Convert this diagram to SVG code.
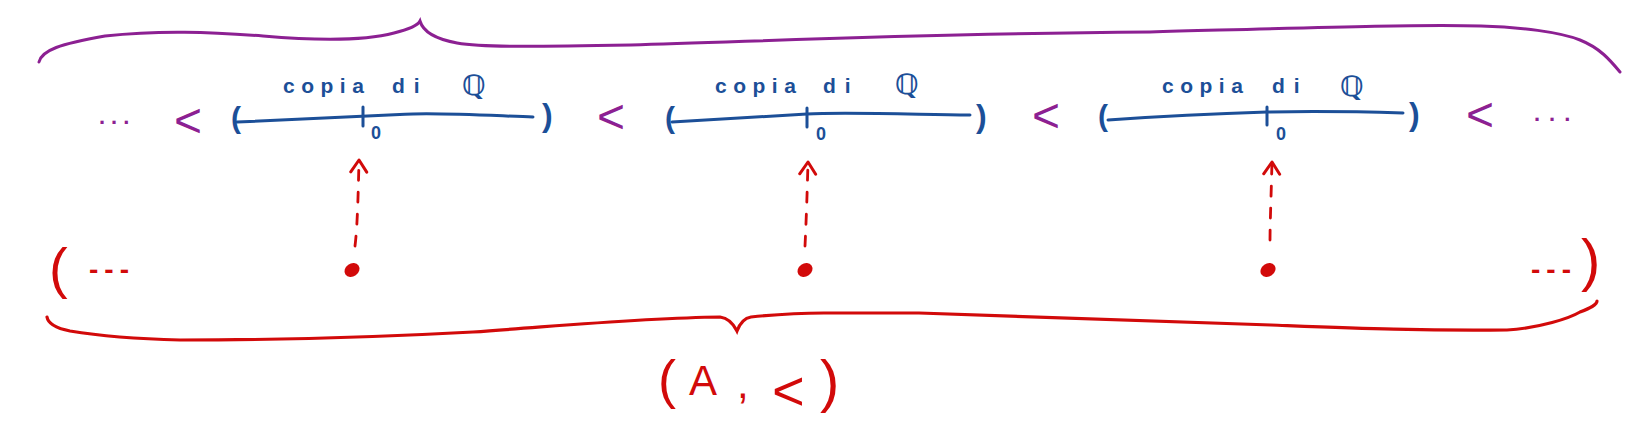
<svg xmlns="http://www.w3.org/2000/svg" width="1648" height="422" viewBox="0 0 1648 422">
<style>
  .bg { fill: #ffffff; }
  .blue { fill: #1c4f98; font-family: "Liberation Sans", "DejaVu Sans", sans-serif; }
  .bline { fill: none; stroke: #1c4f98; stroke-width: 3; stroke-linecap: round; stroke-linejoin: round; }
  .purple { fill: #8c2092; font-family: "Liberation Sans", "DejaVu Sans", sans-serif; }
  .pline { fill: none; stroke: #8c2092; stroke-width: 3; stroke-linecap: round; }
  .red { fill: #d20a0a; font-family: "Liberation Sans", "DejaVu Sans", sans-serif; }
  .rline { fill: none; stroke: #d20a0a; stroke-width: 3.2; stroke-linecap: round; }
  .rdash { fill: none; stroke: #d20a0a; stroke-width: 2.8; stroke-linecap: round; stroke-dasharray: 10 12; }
  .dot { fill: #d20a0a; }
  .lbl { font-size: 21px; letter-spacing: 6.5px; font-weight: bold; }
  .di { font-size: 21px; letter-spacing: 9px; font-weight: bold; }
  .q { font-family: "DejaVu Sans", sans-serif; font-size: 28px; font-weight: bold; }
  .zero { font-size: 18px; font-weight: bold; }
  .lp { font-size: 30px; font-weight: bold; }
  .rp { font-size: 32px; font-weight: bold; }
  .lt { font-size: 48px; }
  .ell { font-size: 22px; letter-spacing: 6px; font-weight: bold; }
  .rdots { font-size: 28px; letter-spacing: 6px; font-weight: bold; }
</style>
<defs>
  <marker id="openArrow" markerUnits="userSpaceOnUse" markerWidth="20" markerHeight="20" viewBox="-15 -10 18 20" refX="0" refY="0" orient="auto">
    <path d="M-12,-8 L0,0 L-12,8" fill="none" stroke="#d20a0a" stroke-width="3" stroke-linecap="round" stroke-linejoin="round"/>
  </marker>
</defs>
<rect class="bg" x="0" y="0" width="1648" height="422"/>

<g id="top-brace">
  <path class="pline" d="M39,62 C42,50 60,44 105,36 C160,30 210,32 263,36 C310,40 360,42 394,33 C410,29 418,25 420,21 C422,28 430,38 457,43 C480,47 520,47 631,45 C750,42 900,34 1150,32 C1300,28 1420,24 1481,26 C1520,27 1560,32 1580,40 C1600,48 1610,60 1620,72"/>
</g>

<g id="order-left">
  <text class="purple ell" x="99" y="124">...</text>
  <text class="purple lt" x="174" y="137">&lt;</text>
</g>

<g id="segment-1">
  <text class="blue" x="283" y="93"><tspan class="lbl">copia </tspan><tspan class="di" x="392">di </tspan><tspan class="q" x="462" y="95">ℚ</tspan></text>
  <text class="blue lp" x="231" y="128">(</text>
  <path class="bline" d="M237,122 C280,120 347,117 413,114 C450,113 500,116 533,117"/>
  <path class="bline" d="M363,107 L363,126"/>
  <text class="blue zero" x="371" y="139">0</text>
  <text class="blue rp" x="542" y="126">)</text>
</g>

<g id="order-1-2">
  <text class="purple lt" x="597" y="133">&lt;</text>
</g>

<g id="segment-2">
  <text class="blue" x="715" y="93"><tspan class="lbl">copia </tspan><tspan class="di" x="823">di </tspan><tspan class="q" x="895" y="94">ℚ</tspan></text>
  <text class="blue lp" x="665" y="128">(</text>
  <path class="bline" d="M672,122 C700,120 740,118 807,114 C840,112 900,114 970,115"/>
  <path class="bline" d="M807,108 L807,127"/>
  <text class="blue zero" x="816" y="140">0</text>
  <text class="blue rp" x="976" y="127">)</text>
</g>

<g id="order-2-3">
  <text class="purple lt" x="1032" y="132">&lt;</text>
</g>

<g id="segment-3">
  <text class="blue" x="1162" y="93"><tspan class="lbl">copia </tspan><tspan class="di" x="1272">di </tspan><tspan class="q" x="1340" y="96">ℚ</tspan></text>
  <text class="blue lp" x="1098" y="126">(</text>
  <path class="bline" d="M1108,120 C1150,117 1200,114 1267,112 C1320,111 1370,112 1403,113"/>
  <path class="bline" d="M1267,107 L1267,125"/>
  <text class="blue zero" x="1276" y="140">0</text>
  <text class="blue rp" x="1409" y="125">)</text>
</g>

<g id="order-right">
  <text class="purple lt" x="1466" y="131">&lt;</text>
  <text class="purple ell" x="1534" y="121" style="letter-spacing:9px">...</text>
</g>

<g id="set-A">
  <text class="red" x="49" y="287" style="font-size:56px">(</text>
  <text class="red rdots" x="89" y="279">---</text>
  <ellipse id="point-1" class="dot" cx="352" cy="270" rx="8" ry="6.5" transform="rotate(-35 352 270)"/>
  <ellipse id="point-2" class="dot" cx="805" cy="270" rx="8" ry="6.5" transform="rotate(-35 805 270)"/>
  <ellipse id="point-3" class="dot" cx="1268" cy="270" rx="8" ry="6.5" transform="rotate(-35 1268 270)"/>
  <text class="red rdots" x="1531" y="279">---</text>
  <text class="red" x="1581" y="280" style="font-size:58px">)</text>
</g>

<g id="connectors">
  <path class="rdash" d="M355,246 C357,230 358,205 359,160" marker-end="url(#openArrow)"/>
  <path class="rdash" d="M805,246 C806,225 807,200 808,162" marker-end="url(#openArrow)"/>
  <path class="rdash" d="M1270,240 C1270,225 1271,200 1272,162" marker-end="url(#openArrow)"/>
</g>

<g id="bottom-brace">
  <path class="rline" d="M47,317 C48,323 55,328 70,331 C100,336 140,339 180,340 C300,340 400,336 473,332 C560,326 640,318 720,317 C728,318 733,323 737,331 C740,323 745,318 751,317 C780,314 800,313 824,313 L919,313 C1000,316 1100,320 1271,325 C1350,328 1420,331 1507,330 C1540,328 1570,318 1580,312 C1590,308 1597,305 1597,301"/>
</g>

<g id="label-A">
  <text class="red"><tspan x="658" y="398" style="font-size:54px">(</tspan><tspan x="689" y="395" style="font-size:42px">A</tspan> <tspan x="737" y="398" style="font-size:42px">,</tspan> <tspan x="772" y="410" style="font-size:56px">&lt;</tspan><tspan x="820" y="401" style="font-size:58px">)</tspan></text>
</g>
</svg>
